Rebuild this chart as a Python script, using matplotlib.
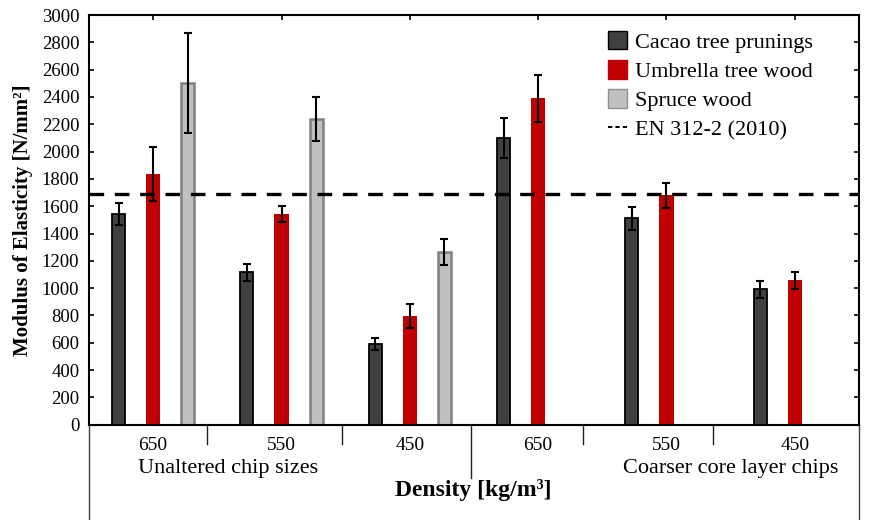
import numpy as np
import matplotlib
matplotlib.use("Agg")
import matplotlib.pyplot as plt
from matplotlib.patches import Patch
from matplotlib.lines import Line2D
from matplotlib.transforms import blended_transform_factory

plt.rcParams['font.family'] = ['Liberation Serif', 'DejaVu Serif']

# data
density_labels = ['650', '550', '450', '650', '550', '450']
group_names = ['Unaltered chip sizes', 'Coarser core layer chips']
cacao = [1540, 1115, 590, 2100, 1510, 990]
cacao_err = [80, 65, 43, 145, 83, 62]
umbrella = [1835, 1540, 795, 2390, 1680, 1057]
umbrella_err = [200, 58, 90, 172, 90, 61]
spruce = [2505, 2237, 1265]
spruce_err = [366, 163, 95]
en_limit = 1690
series_names = ['Cacao tree prunings', 'Umbrella tree wood', 'Spruce wood', 'EN 312-2 (2010)']

W, H = 870, 520
fig = plt.figure(figsize=(8.7, 5.2), dpi=100)
ax = fig.add_axes([89 / W, 1 - 424.7 / H, 770 / W, 409.7 / H])

x = np.arange(len(density_labels)) + 0.5
off = 0.27
bw = 0.1

ax.bar(x - off, cacao, bw, color='#404040', edgecolor='black', linewidth=1.3, zorder=2)
ax.bar(x, umbrella, bw + 0.01, color='#c00000', linewidth=0, zorder=2)
ax.bar(x[:3] + off, spruce, bw, color='#c0c0c0', edgecolor='#808080', linewidth=1.8, zorder=2)

ekw = dict(fmt='none', ecolor='black', elinewidth=1.5, capsize=2.6, capthick=1.5, zorder=4)
ax.errorbar(x - off, cacao, yerr=cacao_err, **ekw)
ax.errorbar(x, umbrella, yerr=umbrella_err, **ekw)
ax.errorbar(x[:3] + off, spruce, yerr=spruce_err, **ekw)

ax.axhline(en_limit, color='black', lw=2.4, linestyle=(0, (4.4, 3.2)), zorder=3)

ax.set_xlim(0, 6)
ax.set_ylim(0, 3000)
ax.set_yticks(np.arange(0, 3001, 200))
ax.set_xticks(x)
ax.set_xticklabels(density_labels, fontsize=14)
ax.tick_params(axis='y', labelsize=13.5, pad=7)
ax.tick_params(axis='x', pad=9)
ax.tick_params(direction='in', length=3.5, width=1.2, top=True, right=True)
for s in ax.spines.values():
    s.set_linewidth(1.5)

ax.set_ylabel('Modulus of Elasticity [N/mm²]', fontsize=15, fontweight='bold', labelpad=6)

# category box below the axis
tr = blended_transform_factory(ax.transData, fig.transFigure)
seps = [0.92, 1.97, 2.98, 3.85, 4.86]
for sx in seps:
    yb = 1 - 478 / H if sx == 2.98 else 1 - 444 / H
    ax.add_line(Line2D([sx, sx], [1 - 424.7 / H, yb], transform=tr, color='#202020',
                       lw=1.0, clip_on=False))
for bx in [0, 6]:
    ax.add_line(Line2D([bx, bx], [1 - 424.7 / H, 0], transform=tr, color='#404040',
                       lw=1.0, clip_on=False))
ax.text(1.08, 1 - 468 / H, group_names[0], transform=tr, ha='center', va='center', fontsize=16)
ax.text(5.0, 1 - 468 / H, group_names[1], transform=tr, ha='center', va='center', fontsize=16)
fig.text(473 / W, 1 - 490 / H, 'Density [kg/m³]', ha='center', va='center',
         fontsize=17, fontweight='bold')

handles = [Patch(facecolor='#404040', edgecolor='black', linewidth=1.0),
           Patch(facecolor='#c00000', edgecolor='#c00000'),
           Patch(facecolor='#c0c0c0', edgecolor='#909090', linewidth=1.0),
           Line2D([], [], color='black', lw=1.4, linestyle=(0, (2.2, 1.6)))]
fig.legend(handles, series_names, loc='upper left', bbox_to_anchor=(608 / W, 1 - 31 / H),
           frameon=False, fontsize=16, handlelength=0.85, handleheight=0.9,
           handletextpad=0.35, labelspacing=0.33, borderpad=0, borderaxespad=0)

fig.savefig('out.png', dpi=100)
